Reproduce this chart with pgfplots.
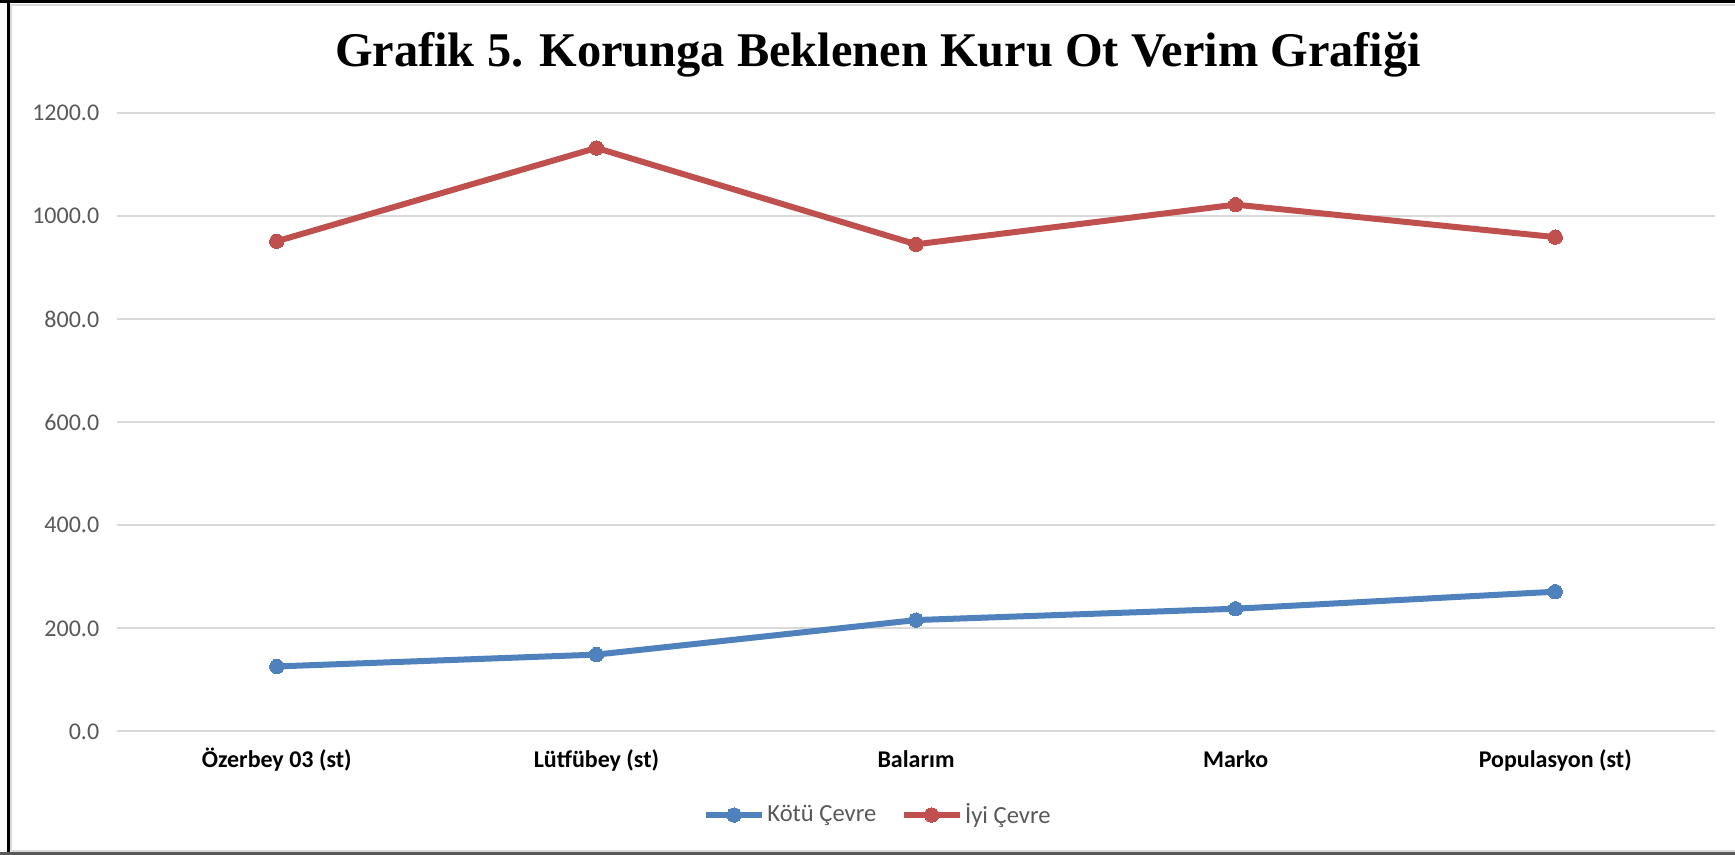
\documentclass[border=0pt]{standalone}
\usepackage{pgfplots}
\pgfplotsset{compat=1.18}
\usepackage{fontspec}
\setmainfont{Carlito}
\newfontfamily\titlefont{Liberation Serif}
\definecolor{blueS}{HTML}{4F81BD}
\definecolor{redS}{HTML}{C0504D}
\definecolor{gridc}{HTML}{D9D9D9}
\definecolor{tickc}{HTML}{595959}
\begin{document}
\begin{tikzpicture}
\useasboundingbox (-58.5pt,-61.8pt) rectangle (809pt,365.7pt);
\fill[white] (-58.5pt,-61.8pt) rectangle (809pt,365.7pt);
% frame
\draw[gridc, line width=1pt] (-53pt,-59.8pt) -- (-53pt,363.2pt) -- (809pt,363.2pt);
\draw[gridc, line width=1pt] (-53pt,-59.8pt) -- (809pt,-59.8pt);
\draw[black, line width=1.2pt] (-54.3pt,-62pt) -- (-54.3pt,364.9pt);
\draw[black, line width=1.2pt] (-58.5pt,364.9pt) -- (809pt,364.9pt);
\draw[black!65, line width=1.2pt] (-58.5pt,-61pt) -- (809pt,-61pt);
\begin{axis}[
  at={(0pt,0pt)}, anchor=south west,
  scale only axis,
  width=799pt, height=309.25pt,
  xmin=-0.5, xmax=4.5,
  ymin=0, ymax=1200,
  ytick={0,200,...,1200},
  xtick={0,1,2,3,4},
  xticklabels={Özerbey 03 (st), Lütfübey (st), Balarım, Marko, Populasyon (st)},
  axis line style={draw=none},
  major tick length=0pt,
  ymajorgrids,
  grid style={gridc, line width=1pt},
  /pgf/number format/assume math mode=true,
  /pgf/number format/.cd, fixed, fixed zerofill, precision=1, 1000 sep={},
  /pgfplots/.cd,
  yticklabel style={font=\fontsize{12}{14}\selectfont, text=tickc, anchor=east, inner sep=0pt, xshift=-8.7pt},
  xticklabel style={font=\fontsize{12}{14}\selectfont\bfseries, text=black, anchor=base, inner sep=0pt, yshift=-18.3pt},
  legend columns=-1,
  legend style={at={(0.4762,0)}, anchor=center, yshift=-41.8pt, draw=none, fill=none,
    font=\fontsize{12.3}{14}\selectfont, text=tickc,
    nodes={inner sep=1.2pt}, /tikz/every even column/.append style={column sep=11pt}},
  legend image code/.code={\draw[#1, mark repeat=2, mark phase=2] plot coordinates {(0pt,0pt) (14pt,0pt) (28pt,0pt)};},
  clip=false,
]
\addplot[blueS, line width=3pt, mark=*, mark size=3.6pt, mark options={solid, fill=blueS, draw=blueS, line width=0pt}]
  coordinates {(0,126) (1,149) (2,216) (3,238) (4,271)};
\addlegendentry{Kötü Çevre}
\addplot[redS, line width=3pt, mark=*, mark size=3.6pt, mark options={solid, fill=redS, draw=redS, line width=0pt}]
  coordinates {(0,951) (1,1132) (2,945) (3,1022) (4,959)};
\addlegendentry{İyi Çevre}
\end{axis}
\node[anchor=base, inner sep=0pt, font=\fontsize{24.2}{28}\selectfont\titlefont\bfseries] at (380.5pt,332.4pt) {Grafik 5. Korunga Beklenen Kuru Ot Verim Grafiği};
\end{tikzpicture}
\end{document}
